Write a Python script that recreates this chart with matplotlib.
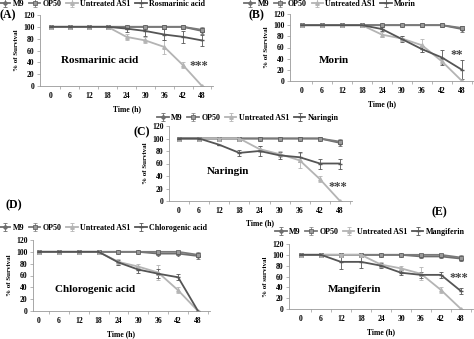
import matplotlib
matplotlib.use("Agg")
import matplotlib.pyplot as plt
import numpy as np

W, H = 474, 339
time_h = [0, 6, 12, 18, 24, 30, 36, 42, 48]

# control series (same shape in every panel)
m9_a = [100, 100, 100, 100, 100, 100, 100, 100, 93]
op50_a = [100, 100, 100, 100, 100, 100, 100, 100, 95]
m9_err = [0, 0, 0, 0, 0, 0, 3, 3, 5]
op50_err = [0, 0, 0, 0, 0, 0, 0, 0, 4]
m9_d = [100, 100, 100, 100, 100, 100, 97, 97, 93]

untreated_a = [100, 100, 100, 100, 83, 77, 66, 35, 0]
untreated_b = [100, 100, 100, 100, 83, 76, 64, 35, 0]
untreated_c = [100, 100, 100, 100, 83, 75, 65, 35, 0]
untreated_e = [100, 100, 100, 100, 82, 75, 65, 35, 0]
untreated_err = [0, 0, 0, 0, 5, 5, 12, 5, 0]

rosmarinic = [100, 100, 100, 100, 97, 93, 87, 83, 77]
rosmarinic_err = [0, 0, 0, 0, 5, 8, 10, 10, 10]
morin = [100, 100, 100, 100, 93, 75, 57, 42, 20]
morin_err = [0, 0, 0, 0, 3, 5, 5, 13, 17]
naringin = [100, 100, 90, 77, 80, 73, 70, 60, 60]
naringin_err = [0, 0, 0, 5, 8, 5, 8, 8, 8]
chlorogenic = [100, 100, 100, 100, 82, 70, 63, 57, 0]
chlorogenic_err = [0, 0, 0, 0, 5, 5, 8, 5, 0]
mangiferin = [100, 100, 87, 87, 80, 67, 63, 63, 33]
mangiferin_err = [0, 0, 13, 12, 5, 5, 5, 5, 5]

SERIF = "Liberation Serif"
C_M9 = "#6e6e6e"
C_OP50 = "#7a7a7a"
C_UNT = "#b4b4b4"
C_TRT = "#555555"

fig = plt.figure(figsize=(W / 100, H / 100), dpi=100)


def panel(box, m9, op50, untreated, unt_err, trt, trt_err, name, letter,
          letter_xy, legend_xy, text_xy, stars, stars_xy, ylabel="% of Survival",
          m9e=m9_err, xpad=4):
    yaxis, x0, x48, top, bottom = box
    unit = (x48 - x0) / 48.0
    xmin = -(x0 - yaxis) / unit
    xmax = 51.5
    right = x0 + xmax * unit
    ax = fig.add_axes([yaxis / W, 1 - bottom / H, (right - yaxis) / W, (bottom - top) / H])

    kw = dict(lw=1.3, capsize=1.5, elinewidth=0.6, capthick=0.6)
    ax.errorbar(time_h, m9, yerr=m9e, color=C_M9, marker="D", ms=2, label="M9", **kw)
    ax.errorbar(time_h, op50, yerr=op50_err, color=C_OP50, marker="s", ms=3,
                mfc="#999999", mec="#555555", mew=0.5, label="OP50", **kw)
    ax.errorbar(time_h, untreated, yerr=unt_err, color=C_UNT, marker="^", ms=2.5,
                label="Untreated AS1", **kw)
    ax.errorbar(time_h, trt, yerr=trt_err, color=C_TRT, marker="_", ms=3,
                label=name, **kw)

    ax.set_xlim(xmin, xmax)
    ax.set_ylim(0, 120)
    ax.set_xticks(time_h)
    ax.set_yticks(range(0, 121, 20))
    ax.set_xticks([t + 3 for t in time_h], minor=True)
    for s in ("top", "right"):
        ax.spines[s].set_visible(False)
    for s in ("left", "bottom"):
        ax.spines[s].set_color("#999999")
        ax.spines[s].set_linewidth(0.6)
    ax.tick_params(axis="both", which="major", length=2, width=0.5, color="#999999",
                   labelsize=5.5, pad=2)
    ax.tick_params(axis="x", which="major", length=0, pad=4)
    ax.tick_params(axis="x", which="minor", length=2, width=0.5, color="#999999")
    for lab in ax.get_xticklabels() + ax.get_yticklabels():
        lab.set_fontfamily(SERIF)
        lab.set_fontweight("bold")
    ax.set_xlabel("Time (h)", fontsize=5.5, fontfamily=SERIF, fontweight="bold", labelpad=xpad)
    ax.set_ylabel(ylabel, fontsize=5, fontfamily=SERIF, fontweight="bold", labelpad=3)

    ax.text(text_xy[0], text_xy[1], name, ha="center", va="center", fontsize=8,
            fontfamily=SERIF, fontweight="bold")
    ax.text(stars_xy[0], stars_xy[1], stars, ha="center", va="center", fontsize=9,
            fontfamily=SERIF, fontweight="bold", color="#444444")
    fig.text(letter_xy[0] / W, 1 - letter_xy[1] / H, letter, ha="left", va="center",
             fontsize=8.5, fontfamily=SERIF, fontweight="bold")

    handles, labels = ax.get_legend_handles_labels()
    ax.legend(handles, labels, ncol=4, loc="center",
              bbox_to_anchor=(legend_xy[0] / W, 1 - legend_xy[1] / H),
              bbox_transform=fig.transFigure, frameon=False,
              prop={"family": SERIF, "weight": "bold", "size": 5.8},
              handlelength=1.4, handletextpad=0.3, columnspacing=0.6,
              borderpad=0, borderaxespad=0)
    return ax


panel((40, 51, 202, 15, 86), m9_a, op50_a, untreated_a, untreated_err,
      rosmarinic, rosmarinic_err, "Rosmarinic acid", "(A)", (0, 15), (102, 4),
      (15.5, 43), "***", (47, 33))
panel((290, 302, 462, 14, 81), m9_a, op50_a, untreated_b, untreated_err,
      morin, morin_err, "Morin", "(B)", (248, 15), (330, 4),
      (9.5, 37), "**", (46.5, 46))
panel((169, 179, 340, 126, 201), m9_a, op50_a, untreated_c, untreated_err,
      naringin, naringin_err, "Naringin", "(C)", (133, 132), (248, 118),
      (14.5, 47), "***", (47.5, 23), xpad=3)
panel((33, 39, 198, 240, 311), m9_d, op50_a, untreated_c, untreated_err,
      chlorogenic, chlorogenic_err, "Chlorogenic acid", "(D)", (5, 205), (103, 228),
      (17, 37), "", (46, 50))
panel((289, 301, 461, 244, 309), m9_d, op50_a, untreated_e, untreated_err,
      mangiferin, mangiferin_err, "Mangiferin", "(E)", (432, 212), (370, 232),
      (16, 36), "***", (47.5, 58), ylabel="% of survival")

fig.savefig("out.png", dpi=100)
